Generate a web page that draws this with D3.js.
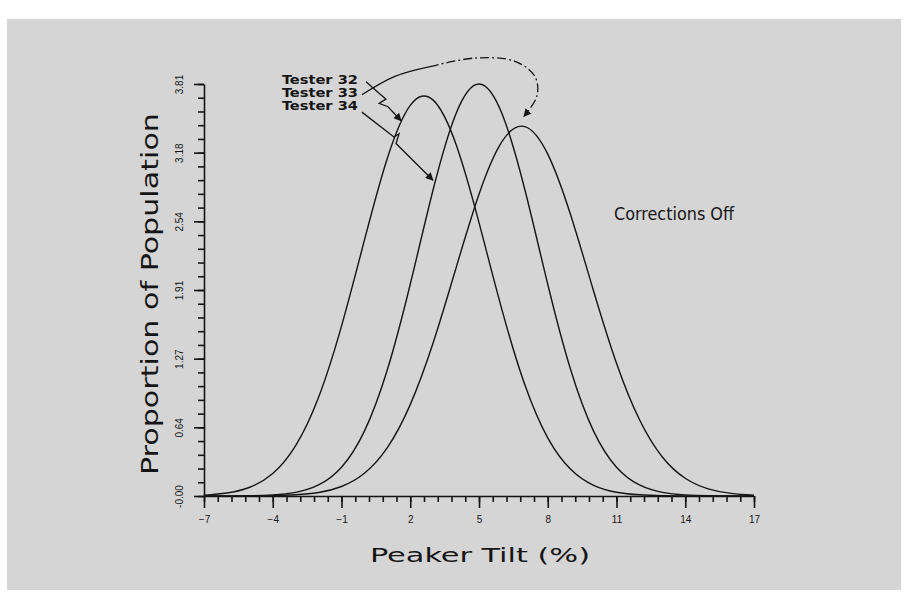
<!DOCTYPE html>
<html>
<head>
<meta charset="utf-8">
<script src="https://cdn.jsdelivr.net/npm/d3@7"></script>
<style>
  body { margin: 0; background: #fff; }
  svg { display: block; }
</style>
</head>
<body>
<div id="chart"></div>
<script>
// peaker tilt values (%), one sample per unit
const tilt = d3.range(-7, 18, 1)

// proportion of population for each tester
const tester33 = [0.008, 0.028, 0.081, 0.208, 0.466, 0.913, 1.571, 2.366, 3.124, 3.613, 3.661, 3.250, 2.528,
	1.723, 1.029, 0.538, 0.247, 0.099, 0.035, 0.011, 0.003, 0.001, 0, 0, 0]
const tester34 = [0, 0, 0.002, 0.010, 0.034, 0.102, 0.266, 0.600, 1.167, 1.958, 2.834, 3.538, 3.810,
	3.538, 2.834, 1.958, 1.167, 0.600, 0.266, 0.102, 0.034, 0.010, 0.002, 0, 0]
const tester32 = [0, 0, 0.001, 0.003, 0.011, 0.032, 0.088, 0.210, 0.447, 0.845, 1.417, 2.110, 2.790,
	3.276, 3.416, 3.161, 2.598, 1.896, 1.228, 0.707, 0.361, 0.164, 0.066, 0.024, 0.007]

const xTicks = [-7, -4, -1, 2, 5, 8, 11, 14, 17]
const yTicks = [0, 0.635, 1.27, 1.905, 2.54, 3.175, 3.81]
const yTickLabels = ["-0.00", "0.64", "1.27", "1.91", "2.54", "3.18", "3.81"]

// leader lines, in data units
const leader32 = [[0.07, 3.83], [0.55, 3.74], [0.94, 3.67], [0.64, 3.63], [1.03, 3.60], [1.60, 3.47]]
const leader33solid = [[-0.11, 3.71], [1.33, 3.88], [2.86, 3.97]]
const leader33dash = [[2.86, 3.97], [4.83, 4.05], [6.57, 4.02], [7.44, 3.88], [7.53, 3.70], [6.96, 3.51]]
const leader34 = [[-0.11, 3.55], [1.29, 3.32], [1.51, 3.35], [1.38, 3.26], [2.99, 2.92]]

const W = 908, H = 601
const svg = d3.select("#chart").append("svg")
	.attr("width", W).attr("height", H)
	.style("font-family", "'DejaVu Sans Condensed', 'DejaVu Sans', sans-serif")

svg.append("rect")
	.attr("x", 7).attr("y", 19).attr("width", 894).attr("height", 571)
	.attr("fill", "#d5d5d5")

const x = d3.scaleLinear().domain([-7, 17]).range([204, 754])
const y = d3.scaleLinear().domain([0, 3.81]).range([496, 84])

const ink = "#151515"

// minor ticks first
svg.append("g")
	.attr("transform", `translate(0,${y(0)})`)
	.call(d3.axisBottom(x).tickValues(d3.range(-7, 17.01, 0.6)).tickSize(6).tickFormat(""))
	.call(g => g.select(".domain").remove())
svg.append("g")
	.attr("transform", `translate(${x(-7)},0)`)
	.call(d3.axisLeft(y).tickValues(d3.range(0, 3.82, 0.127)).tickSize(6).tickFormat(""))
	.call(g => g.select(".domain").remove())

const xAxis = svg.append("g")
	.attr("transform", `translate(0,${y(0)})`)
	.call(d3.axisBottom(x).tickValues(xTicks).tickSize(12).tickSizeOuter(0).tickPadding(8).tickFormat(d3.format("d")))
xAxis.selectAll("text").attr("font-size", 10).attr("fill", ink)

const yAxis = svg.append("g")
	.attr("transform", `translate(${x(-7)},0)`)
	.call(d3.axisLeft(y).tickValues(yTicks).tickSize(10).tickSizeOuter(0).tickFormat((d, i) => yTickLabels[i]))
yAxis.selectAll("text")
	.attr("font-size", 10).attr("fill", ink)
	.attr("x", null).attr("dy", null)
	.attr("text-anchor", "middle")
	.attr("transform", "translate(-21,0) rotate(-90)")

svg.selectAll(".tick line, .domain").attr("stroke", ink).attr("stroke-width", 1.6)

// curves
const line = d3.line()
	.x((d, i) => x(tilt[i]))
	.y(d => y(d))
	.curve(d3.curveNatural)

svg.append("g")
	.attr("fill", "none")
	.attr("stroke", ink)
	.attr("stroke-width", 1.4)
	.selectAll("path")
	.data([tester33, tester34, tester32])
	.join("path")
	.attr("d", line)

// labels
svg.append("text")
	.attr("transform", "translate(158,294) rotate(-90)")
	.attr("text-anchor", "middle")
	.attr("font-size", 23)
	.attr("textLength", 362).attr("lengthAdjust", "spacingAndGlyphs")
	.attr("fill", ink)
	.text("Proportion of Population")

svg.append("text")
	.attr("x", 480).attr("y", 562)
	.attr("text-anchor", "middle")
	.attr("font-size", 20)
	.attr("textLength", 220).attr("lengthAdjust", "spacingAndGlyphs")
	.attr("fill", ink)
	.text("Peaker Tilt (%)")

svg.append("text")
	.attr("x", 614).attr("y", 220)
	.attr("font-size", 17)
	.attr("textLength", 120).attr("lengthAdjust", "spacingAndGlyphs")
	.attr("fill", ink)
	.text("Corrections Off")

svg.append("g")
	.attr("font-size", 12)
	.attr("font-weight", "bold")
	.attr("fill", ink)
	.selectAll("text")
	.data(["Tester 32", "Tester 33", "Tester 34"])
	.join("text")
	.attr("x", 282)
	.attr("y", (d, i) => 83.5 + i * 13)
	.attr("textLength", 76).attr("lengthAdjust", "spacingAndGlyphs")
	.text(d => d)

// arrows
svg.append("defs").append("marker")
	.attr("id", "head")
	.attr("viewBox", "0 0 10 10")
	.attr("refX", 9).attr("refY", 5)
	.attr("markerWidth", 8).attr("markerHeight", 8)
	.attr("markerUnits", "userSpaceOnUse")
	.attr("orient", "auto")
	.append("path")
	.attr("d", "M0,0L10,5L0,10z")
	.attr("fill", ink)

const lead = d3.line().x(d => x(d[0])).y(d => y(d[1]))
const leadCurve = d3.line().x(d => x(d[0])).y(d => y(d[1])).curve(d3.curveCatmullRom)

const ann = svg.append("g").attr("fill", "none").attr("stroke", ink).attr("stroke-width", 1.3)
ann.append("path").attr("d", lead(leader32)).attr("marker-end", "url(#head)")
ann.append("path").attr("d", lead(leader34)).attr("marker-end", "url(#head)")
ann.append("path").attr("d", leadCurve(leader33solid))
ann.append("path").attr("d", leadCurve(leader33dash))
	.attr("stroke-dasharray", "9,3,2,3")
	.attr("marker-end", "url(#head)")
</script>
</body>
</html>
